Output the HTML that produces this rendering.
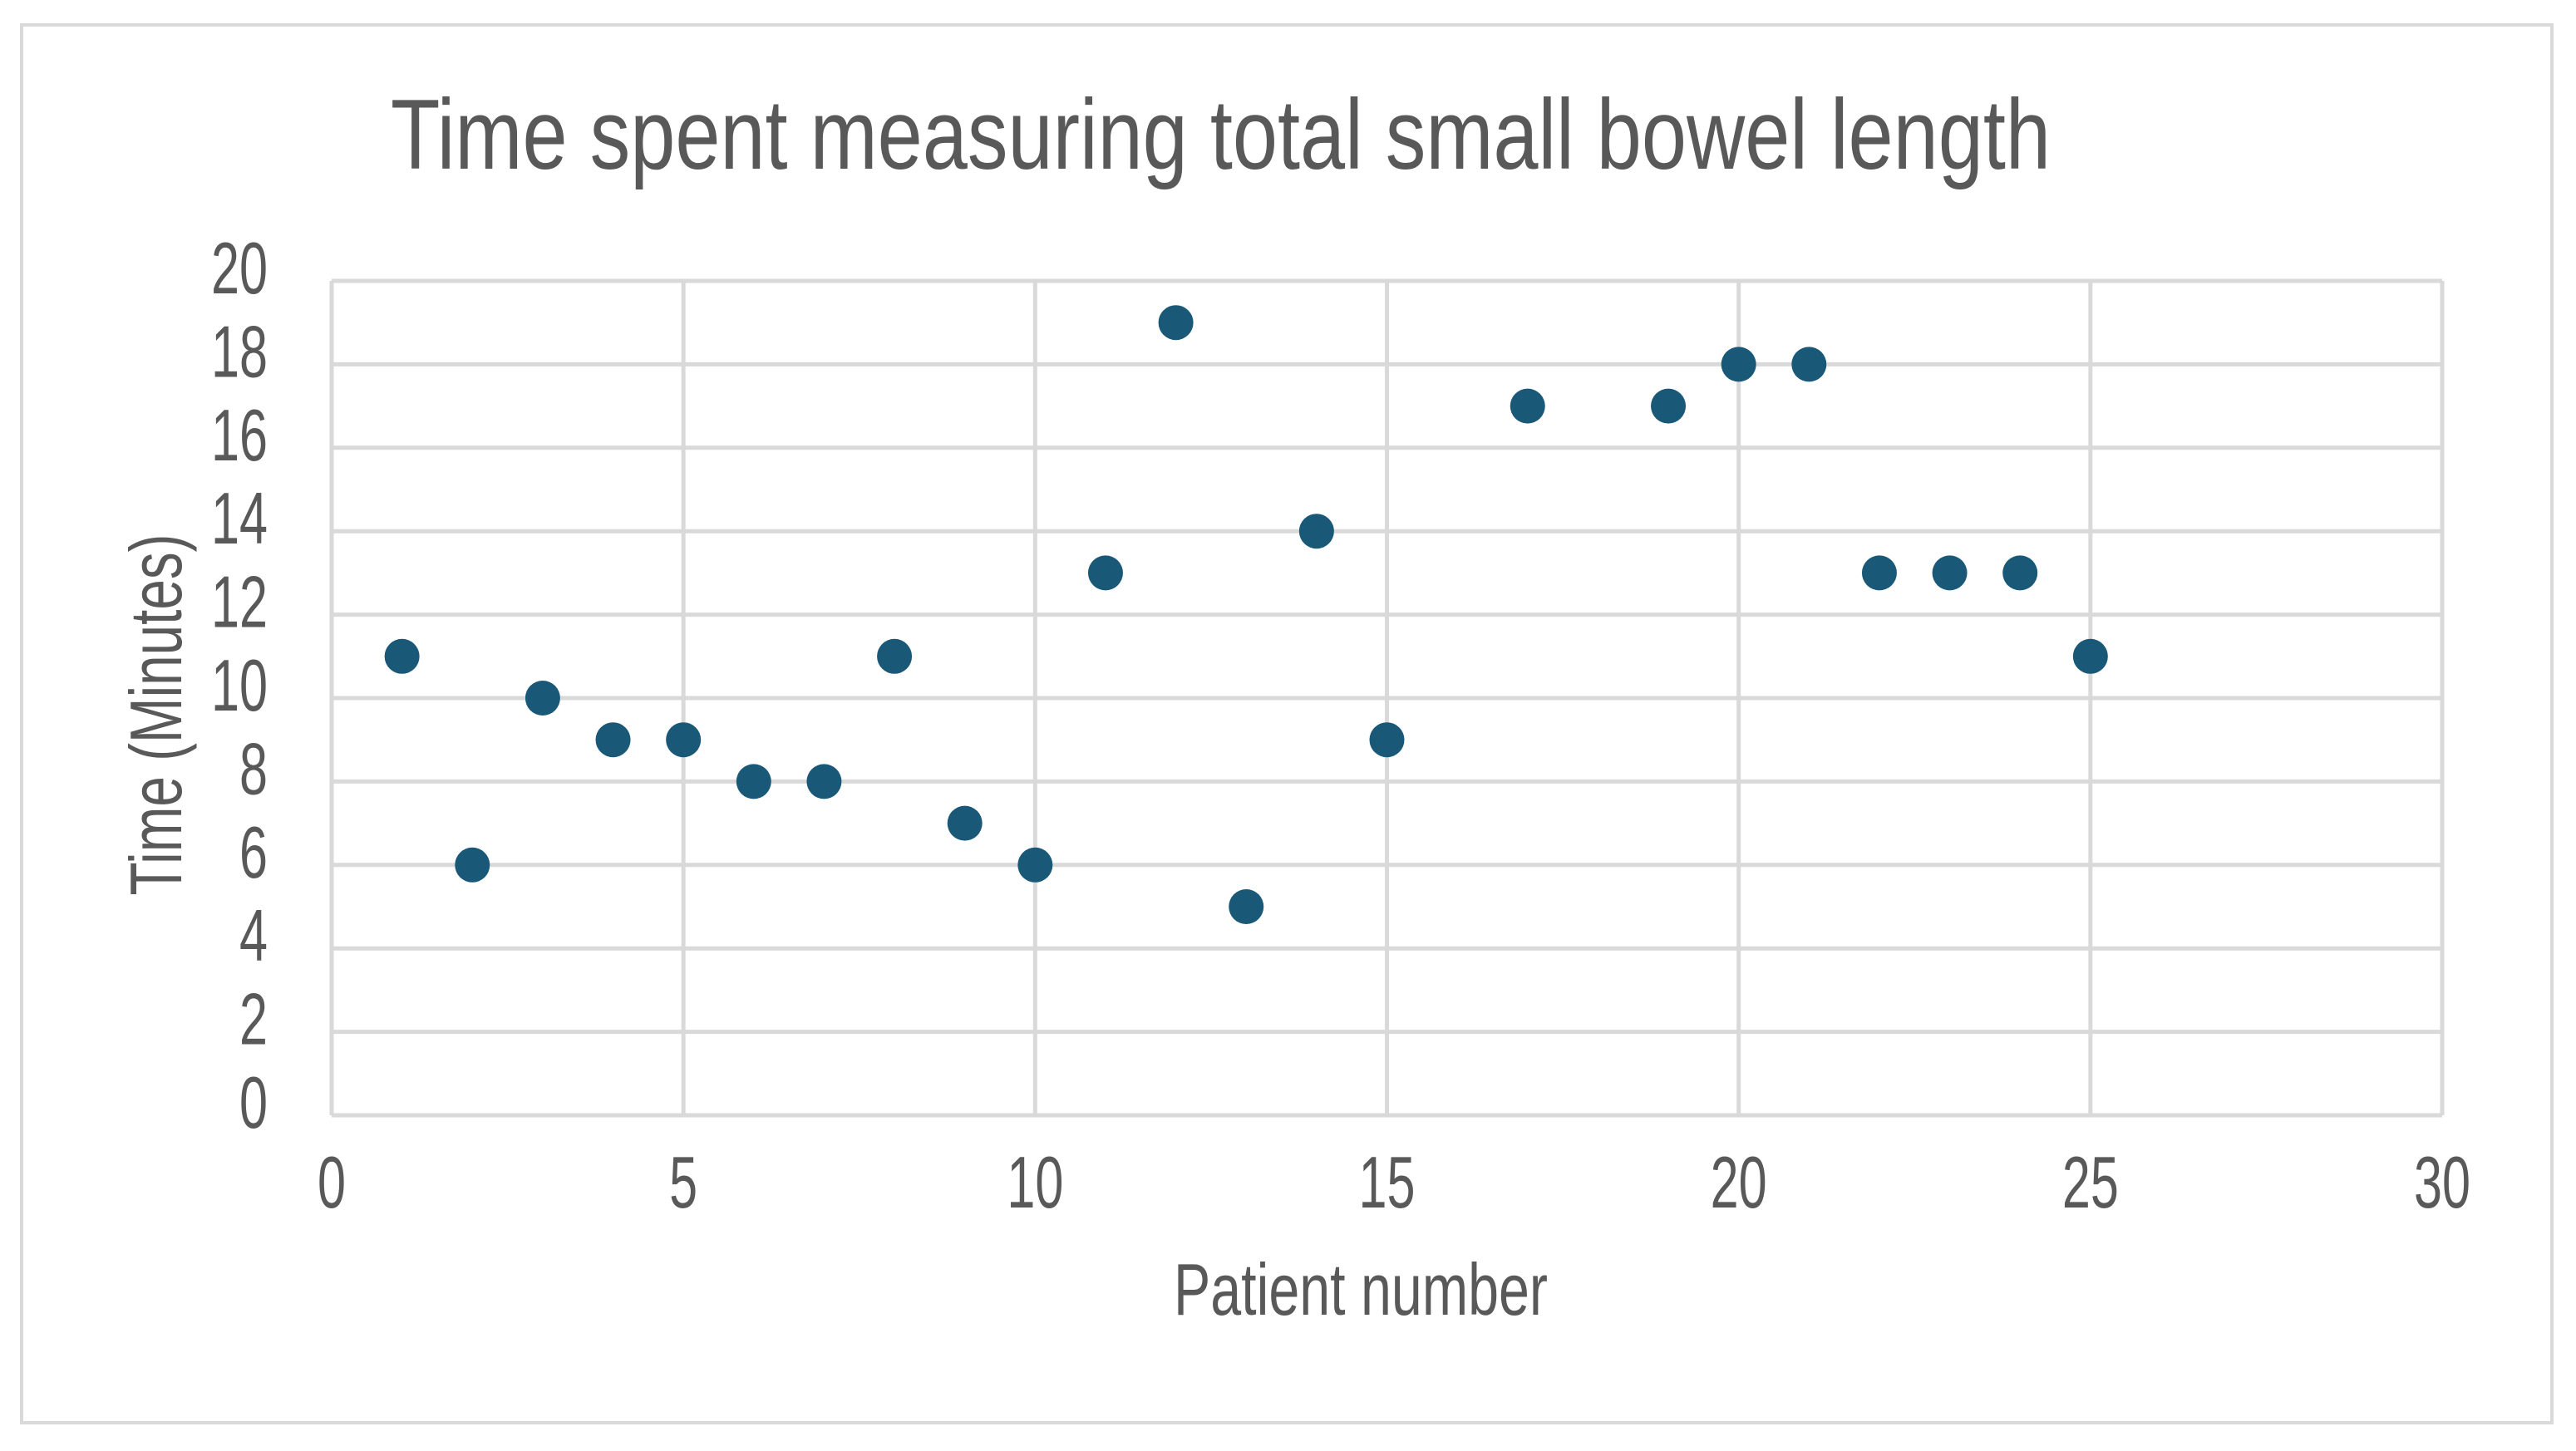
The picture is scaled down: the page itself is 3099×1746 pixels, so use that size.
<!DOCTYPE html>
<html><head><meta charset="utf-8"><style>
html,body{margin:0;padding:0;background:#fff;}
svg{display:block;font-family:"Liberation Sans",sans-serif;}
</style></head><body>
<svg id="chart" width="3099" height="1746" viewBox="0 0 3099 1746">
<rect x="26" y="30" width="3044" height="1682" fill="#fff" stroke="#d9d9d9" stroke-width="4"/>
<text x="470" y="203" font-size="120" fill="#595959" textLength="1997" lengthAdjust="spacingAndGlyphs">Time spent measuring total small bowel length</text>
<g id="grid"></g>
<g id="marks"></g>
<text x="1637" y="1582" font-size="88" fill="#595959" text-anchor="middle" textLength="450" lengthAdjust="spacingAndGlyphs">Patient number</text>
<text transform="translate(218,860) rotate(-90)" font-size="88" fill="#595959" text-anchor="middle" textLength="435" lengthAdjust="spacingAndGlyphs">Time (Minutes)</text>
</svg>
<script>
const patients=[1,2,3,4,5,6,7,8,9,10,11,12,13,14,15,17,19,20,21,22,23,24,25];
const minutes=[11,6,10,9,9,8,8,11,7,6,13,19,5,14,9,17,17,18,18,13,13,13,11];
const xTicks=[0,5,10,15,20,25,30];
const yTicks=[0,2,4,6,8,10,12,14,16,18,20];
const L=399,R=2938,T=338,B=1342;
const xs=v=>L+(v-0)/30*(R-L);
const ys=v=>B-(v-0)/20*(B-T);
const NS="http://www.w3.org/2000/svg";
const grid=document.getElementById('grid'),marks=document.getElementById('marks');
function mk(tag,attrs,parent){const e=document.createElementNS(NS,tag);for(const k in attrs)e.setAttribute(k,attrs[k]);parent.appendChild(e);return e;}
yTicks.forEach(t=>{
 const l=mk('line',{x1:L,x2:R,y1:ys(t),y2:ys(t),stroke:'#d9d9d9','stroke-width':5},grid);
 
 
 const tx=mk('text',{x:322,y:ys(t)+15,'font-size':88,fill:'#595959','text-anchor':'end',textLength:String(t).length*34,lengthAdjust:'spacingAndGlyphs'},grid);
 tx.textContent=t;
 
 
});
xTicks.forEach(t=>{
 const l=mk('line',{x1:xs(t),x2:xs(t),y1:T,y2:B,stroke:'#d9d9d9','stroke-width':5},grid);
 
 
 const tx=mk('text',{x:xs(t),y:1453,'font-size':88,fill:'#595959','text-anchor':'middle',textLength:String(t).length*34,lengthAdjust:'spacingAndGlyphs'},grid);
 tx.textContent=t;
 
 
});
patients.forEach((p,i)=>{
 const c=mk('circle',{cx:xs(p),cy:ys(minutes[i]),r:21,fill:'#1a5878'},marks);
 
 
});
</script>
</body></html>
